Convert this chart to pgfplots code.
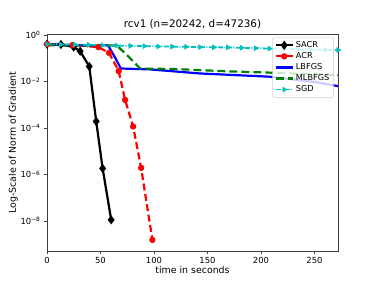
\documentclass[border=0pt]{standalone}
\usepackage{pgfplots}
\pgfplotsset{compat=1.18}
\usepackage{fontspec}
\setmainfont{DejaVu Sans}
\definecolor{mgreen}{rgb}{0,0.5,0}
\definecolor{mcyan}{rgb}{0,0.75,0.75}
\begin{document}
\begin{tikzpicture}
\begin{axis}[
  at={(0,0)}, anchor=south west,
  scale only axis, width=291pt, height=217pt,
  xmin=0, xmax=272,
  ymode=log, ymin=5e-10, ymax=1.1,
  xtick={0,50,100,150,200,250},
  ytick={1,1e-2,1e-4,1e-6,1e-8},
  yticklabels={10\textsuperscript{0},10\textsuperscript{−2},10\textsuperscript{−4},10\textsuperscript{−6},10\textsuperscript{−8}},
  minor ytick={}, 
  /pgf/number format/assume math mode=true,
  tick align=outside, tick pos=left,
  major tick length=3pt,
  axis line style={black!75, line width=0.5pt},
  every tick/.style={black!75, line width=0.5pt},
  ticklabel style={font=\fontsize{8.4}{9}\selectfont},
  title={rcv1 (n=20242, d=47236)},
  title style={font=\fontsize{10.4}{11}\selectfont, yshift=-4pt},
  xlabel={time in seconds},
  ylabel={Log-Scale of Norm of Gradient},
  label style={font=\fontsize{9.4}{10}\selectfont},
  xlabel style={yshift=4pt},
  ylabel style={yshift=-4pt},
  legend style={at={(0.985,0.985)}, anchor=north east, font=\fontsize{8.2}{9}\selectfont,
     draw=black!20, rounded corners=1.5pt, fill=white, fill opacity=0.8, text opacity=1,
     row sep=-0.5pt, inner sep=2pt},
  legend cell align=left,
]
\addplot[black, line width=2.2pt, mark=diamond*, mark size=2.8pt] coordinates {
(0,0.40) (13,0.39) (25,0.30) (31,0.20) (39.5,0.044) (46,1.9e-4) (52,1.8e-6) (60,1.1e-8)};
\addlegendentry{SACR}
\addplot[red, line width=2.2pt, dash pattern=on 7pt off 3.5pt, mark=*, mark size=2pt, mark options={solid}] coordinates {
(0,0.40) (24,0.37) (48,0.30) (58,0.17) (67,0.028) (73,1.6e-3) (80.5,1.15e-4) (88,1.9e-6) (98.5,1.5e-9)};
\addlegendentry{ACR}
\addplot[blue, line width=2.2pt] coordinates {
(0,0.38) (20,0.37) (40,0.36) (57,0.36) (63,0.12) (69,0.036) (96,0.033) (143,0.022) (208,0.016) (250,0.0095) (272,0.0063)};
\addlegendentry{LBFGS}
\addplot[mgreen, line width=2.2pt, dash pattern=on 8pt off 4pt] coordinates {
(0,0.36) (30,0.35) (60,0.35) (65,0.36) (76,0.12) (87,0.036) (120,0.034) (171,0.027) (220,0.023) (272,0.019)};
\addlegendentry{MLBFGS}
\addplot[mcyan, line width=1.8pt, dash pattern=on 5pt off 1.5pt on 1pt off 1.5pt, mark=triangle*, mark size=1.6pt, mark options={solid, rotate=-90}] coordinates {
(0,0.40) (13,0.39) (26,0.385) (39,0.375) (52,0.36) (65,0.35) (78,0.34) (91,0.33) (104,0.32) (117,0.315) (130,0.31) (143,0.30) (156,0.295) (169,0.29) (182,0.28) (195,0.27) (208,0.26) (221,0.25) (234,0.24) (247,0.235) (260,0.23) (272,0.225)};
\addlegendentry{SGD}
\end{axis}
\pgfresetboundingbox
\path (-47pt,-31pt) rectangle (329pt,251pt);
\end{tikzpicture}
\end{document}
